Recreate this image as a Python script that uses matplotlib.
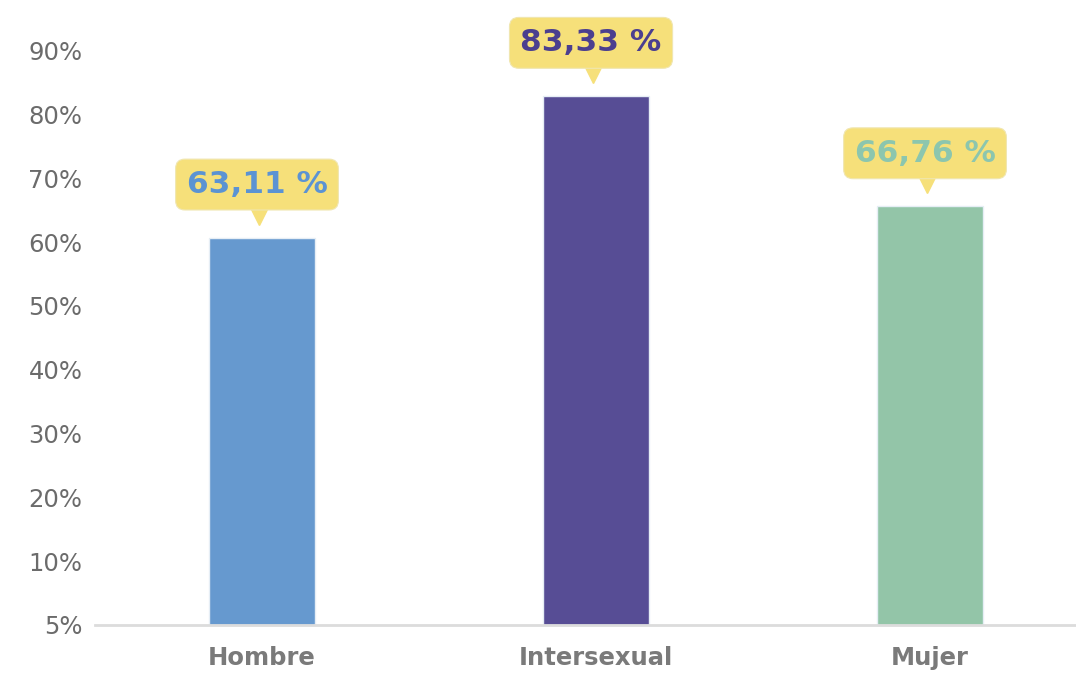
import numpy as np
import matplotlib
matplotlib.use("Agg")
import matplotlib.pyplot as plt
from matplotlib.transforms import offset_copy

categories = ["Hombre", "Intersexual", "Mujer"]
bar_heights = [60.7, 82.9, 65.6]          # bar tops as drawn in the picture
label_values = [63.11, 83.33, 66.76]      # values printed in the callouts
tick_values = [5, 10, 20, 30, 40, 50, 60, 70, 80, 90]

bar_colors = ["#6699cf", "#574d95", "#93c5a8"]
text_colors = ["#5b93d3", "#4b3f8f", "#8cc6ae"]


# the axis is not linear: 5% -> 10% takes the same room as 10% -> 20%
def fwd(v):
    v = np.asarray(v, dtype=float)
    return np.where(v >= 10, v / 10.0, (v - 5.0) / 5.0)


def inv(i):
    i = np.asarray(i, dtype=float)
    return np.where(i >= 1, i * 10.0, 5.0 + 5.0 * i)


fig = plt.figure(figsize=(10.76, 6.75), dpi=100)
ax = fig.add_axes([95 / 1076, 50 / 675, 981 / 1076, 600 / 675])
ax.set_yscale("function", functions=(fwd, inv))
ax.set_ylim(5, 94)
ax.set_xlim(-0.5, 2.437)

x = np.arange(len(categories))
base = 5
ax.bar(x, np.array(bar_heights) - base, width=0.317, bottom=base,
       color=bar_colors, edgecolor="#e6eef5", linewidth=1.0, zorder=2)

for i, v in enumerate(bar_heights):
    txt = str(label_values[i]).replace(".", ",") + " %"
    tr_text = offset_copy(ax.transData, fig=fig, x=-5, y=53, units="dots")
    tr_tri = offset_copy(ax.transData, fig=fig, x=-3, y=21, units="dots")
    ax.plot(x[i], v, marker="v", markersize=11, color="#f6e07a",
            transform=tr_tri, clip_on=False, zorder=3)
    ax.text(x[i], v, txt, transform=tr_text, ha="center", va="center",
            fontsize=22.5, fontweight="bold", color=text_colors[i],
            bbox=dict(boxstyle="round,pad=0.35,rounding_size=0.3",
                      facecolor="#f6e07a", edgecolor="#f0e6b0", linewidth=0.8),
            clip_on=False, zorder=4)

ax.set_yticks(tick_values)
ax.set_yticklabels([str(t) + "%" for t in tick_values])
ax.minorticks_off()
ax.set_xticks(x)
ax.set_xticklabels(categories, fontweight="bold")

ax.tick_params(axis="y", length=0, pad=9, labelsize=17.5, labelcolor="#6b6b6b")
ax.tick_params(axis="x", length=0, pad=15, labelsize=17.5, labelcolor="#7a7a7a")

for s in ["top", "right", "left"]:
    ax.spines[s].set_visible(False)
ax.spines["bottom"].set_color("#dcdcdc")
ax.spines["bottom"].set_linewidth(2)

fig.savefig("out.png", dpi=100)
